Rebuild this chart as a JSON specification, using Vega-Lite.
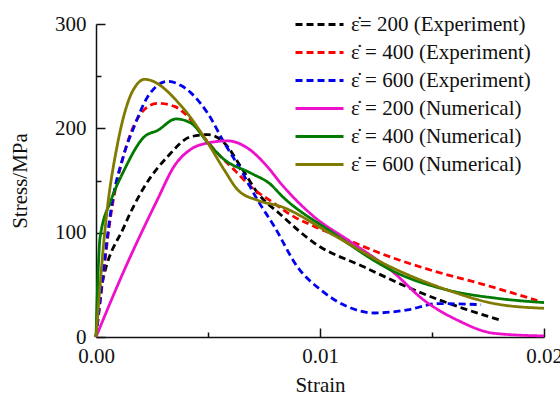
{
  "$schema": "https://vega.github.io/schema/vega-lite/v6.json",
  "width": 448,
  "height": 313,
  "autosize": "none",
  "padding": {"left": 96, "top": 24, "right": 16, "bottom": 58},
  "background": "white",
  "config": {
    "view": {"stroke": null},
    "font": "Liberation Serif",
    "legend": {"labelFont": "Liberation Serif"},
    "axis": {"labelFont": "Liberation Serif", "titleFont": "Liberation Serif", "labelFontSize": 21, "titleFontSize": 21, "titleFontWeight": "normal", "labelColor": "#111", "titleColor": "#111", "domainColor": "#111", "tickColor": "#111", "domainWidth": 1.5, "tickWidth": 1.5, "grid": false}
  },
  "data": {"values": [
    {"s": "E200", "x": 0, "y": 0},
    {"s": "E200", "x": 0.00022, "y": 45},
    {"s": "E200", "x": 0.00126, "y": 106},
    {"s": "E200", "x": 0.00216, "y": 144},
    {"s": "E200", "x": 0.0032, "y": 173},
    {"s": "E200", "x": 0.00424, "y": 192},
    {"s": "E200", "x": 0.005, "y": 194},
    {"s": "E200", "x": 0.00573, "y": 186},
    {"s": "E200", "x": 0.00647, "y": 163},
    {"s": "E200", "x": 0.00722, "y": 138},
    {"s": "E200", "x": 0.00826, "y": 117},
    {"s": "E200", "x": 0.00975, "y": 90},
    {"s": "E200", "x": 0.01198, "y": 67},
    {"s": "E200", "x": 0.01421, "y": 45},
    {"s": "E200", "x": 0.01645, "y": 27},
    {"s": "E200", "x": 0.01808, "y": 16},
    {"s": "E400", "x": 0, "y": 0},
    {"s": "E400", "x": 0.00022, "y": 40},
    {"s": "E400", "x": 0.00067, "y": 118},
    {"s": "E400", "x": 0.00126, "y": 176},
    {"s": "E400", "x": 0.00216, "y": 218},
    {"s": "E400", "x": 0.00275, "y": 224},
    {"s": "E400", "x": 0.0035, "y": 221},
    {"s": "E400", "x": 0.00424, "y": 208},
    {"s": "E400", "x": 0.00469, "y": 195},
    {"s": "E400", "x": 0.00543, "y": 176},
    {"s": "E400", "x": 0.00618, "y": 160},
    {"s": "E400", "x": 0.00692, "y": 144},
    {"s": "E400", "x": 0.00796, "y": 128},
    {"s": "E400", "x": 0.0087, "y": 117},
    {"s": "E400", "x": 0.00975, "y": 106},
    {"s": "E400", "x": 0.01124, "y": 93},
    {"s": "E400", "x": 0.01272, "y": 80},
    {"s": "E400", "x": 0.01496, "y": 64},
    {"s": "E400", "x": 0.01719, "y": 51},
    {"s": "E400", "x": 0.0197, "y": 35},
    {"s": "E600", "x": 0, "y": 0},
    {"s": "E600", "x": 0.00022, "y": 42},
    {"s": "E600", "x": 0.00067, "y": 122},
    {"s": "E600", "x": 0.00126, "y": 176},
    {"s": "E600", "x": 0.00171, "y": 202},
    {"s": "E600", "x": 0.0023, "y": 230},
    {"s": "E600", "x": 0.0032, "y": 245},
    {"s": "E600", "x": 0.0038, "y": 241},
    {"s": "E600", "x": 0.00424, "y": 234},
    {"s": "E600", "x": 0.005, "y": 214},
    {"s": "E600", "x": 0.00573, "y": 186},
    {"s": "E600", "x": 0.00647, "y": 160},
    {"s": "E600", "x": 0.00722, "y": 131},
    {"s": "E600", "x": 0.00796, "y": 106},
    {"s": "E600", "x": 0.009, "y": 67},
    {"s": "E600", "x": 0.01004, "y": 45},
    {"s": "E600", "x": 0.01124, "y": 29},
    {"s": "E600", "x": 0.01243, "y": 23},
    {"s": "E600", "x": 0.01391, "y": 26},
    {"s": "E600", "x": 0.01525, "y": 32},
    {"s": "E600", "x": 0.01719, "y": 31},
    {"s": "N200", "x": 0, "y": 0},
    {"s": "N200", "x": 0.00126, "y": 64},
    {"s": "N200", "x": 0.00275, "y": 132},
    {"s": "N200", "x": 0.0035, "y": 164},
    {"s": "N200", "x": 0.00424, "y": 180},
    {"s": "N200", "x": 0.005, "y": 186},
    {"s": "N200", "x": 0.00588, "y": 188},
    {"s": "N200", "x": 0.00677, "y": 181},
    {"s": "N200", "x": 0.00766, "y": 163},
    {"s": "N200", "x": 0.00826, "y": 147},
    {"s": "N200", "x": 0.00975, "y": 115},
    {"s": "N200", "x": 0.01124, "y": 93},
    {"s": "N200", "x": 0.01317, "y": 64},
    {"s": "N200", "x": 0.01466, "y": 35},
    {"s": "N200", "x": 0.01615, "y": 16},
    {"s": "N200", "x": 0.01778, "y": 3.5},
    {"s": "N200", "x": 0.02, "y": 1},
    {"s": "N400", "x": 0, "y": 0},
    {"s": "N400", "x": 0.00009, "y": 60},
    {"s": "N400", "x": 0.00018, "y": 95},
    {"s": "N400", "x": 0.00067, "y": 131},
    {"s": "N400", "x": 0.00126, "y": 160},
    {"s": "N400", "x": 0.00216, "y": 192},
    {"s": "N400", "x": 0.00275, "y": 198},
    {"s": "N400", "x": 0.00357, "y": 209},
    {"s": "N400", "x": 0.00424, "y": 205},
    {"s": "N400", "x": 0.005, "y": 186},
    {"s": "N400", "x": 0.00573, "y": 170},
    {"s": "N400", "x": 0.00692, "y": 157},
    {"s": "N400", "x": 0.00781, "y": 146},
    {"s": "N400", "x": 0.00826, "y": 136},
    {"s": "N400", "x": 0.01049, "y": 101},
    {"s": "N400", "x": 0.01347, "y": 61},
    {"s": "N400", "x": 0.0157, "y": 45},
    {"s": "N400", "x": 0.01793, "y": 37},
    {"s": "N400", "x": 0.02, "y": 33},
    {"s": "N600", "x": 0, "y": 0},
    {"s": "N600", "x": 0.000446, "y": 112},
    {"s": "N600", "x": 0.00097, "y": 186},
    {"s": "N600", "x": 0.00141, "y": 224},
    {"s": "N600", "x": 0.00186, "y": 243},
    {"s": "N600", "x": 0.00216, "y": 247},
    {"s": "N600", "x": 0.00394, "y": 218},
    {"s": "N600", "x": 0.00499, "y": 186},
    {"s": "N600", "x": 0.00573, "y": 160},
    {"s": "N600", "x": 0.00633, "y": 141},
    {"s": "N600", "x": 0.00722, "y": 131},
    {"s": "N600", "x": 0.00826, "y": 125},
    {"s": "N600", "x": 0.01049, "y": 99},
    {"s": "N600", "x": 0.01317, "y": 67},
    {"s": "N600", "x": 0.0157, "y": 45},
    {"s": "N600", "x": 0.01778, "y": 32},
    {"s": "N600", "x": 0.02, "y": 27.5}
  ]},
  "resolve": {"axis": {"x": "independent", "y": "independent"}},
  "layer": [
    {
      "mark": {"type": "line", "interpolate": "monotone", "strokeWidth": 2.8, "clip": false},
      "encoding": {
        "x": {"field": "x", "type": "quantitative", "scale": {"domain": [0, 0.02], "nice": false}, "axis": {"orient": "bottom", "values": [0, 0.01, 0.02], "format": ".2f", "tickSize": -9, "labelPadding": 17, "title": "Strain", "titlePadding": 8, "labelFlush": false}},
        "y": {"field": "y", "type": "quantitative", "scale": {"domain": [0, 300], "nice": false}, "axis": {"orient": "left", "values": [0, 100, 200, 300], "tickSize": -9, "labelPadding": 19, "title": "Stress/MPa", "titlePadding": 24}},
        "color": {"field": "s", "type": "nominal", "scale": {"domain": ["E200", "E400", "E600", "N200", "N400", "N600"], "range": ["#000000", "#ff0000", "#0000ee", "#ee11cc", "#007a00", "#807a00"]},
          "legend": {"orient": "none", "legendX": 213, "legendY": -10, "title": null, "labelFont": "Liberation Serif", "labelFontSize": 21, "labelLimit": 400, "labelColor": "#111", "symbolType": "M-4,0H4", "symbolStrokeWidth": 3, "symbolSize": 144, "rowPadding": 6, "labelOffset": 21,
            "labelExpr": "{'E200': '\u03b5\u0307= 200 (Experiment)', 'E400': '\u03b5\u0307 = 400 (Experiment)', 'E600': '\u03b5\u0307 = 600 (Experiment)', 'N200': '\u03b5\u0307 = 200 (Numerical)', 'N400': '\u03b5\u0307 = 400 (Numerical)', 'N600': '\u03b5\u0307 = 600 (Numerical)'}[datum.value]"}},
        "strokeDash": {"field": "s", "type": "nominal", "scale": {"domain": ["E200", "E400", "E600", "N200", "N400", "N600"], "range": [[7, 4], [7, 4], [7, 4], [1, 0], [1, 0], [1, 0]]}, "legend": null}
      }
    },
    {
      "mark": {"type": "point", "opacity": 0},
      "encoding": {
        "x": {"field": "x", "type": "quantitative", "axis": {"orient": "bottom", "values": [0.005, 0.015], "labels": false, "domain": false, "tickSize": -5, "title": null}},
        "y": {"field": "y", "type": "quantitative", "axis": {"orient": "left", "values": [50, 150, 250], "labels": false, "domain": false, "tickSize": -5, "title": null}}
      }
    }
  ]
}
